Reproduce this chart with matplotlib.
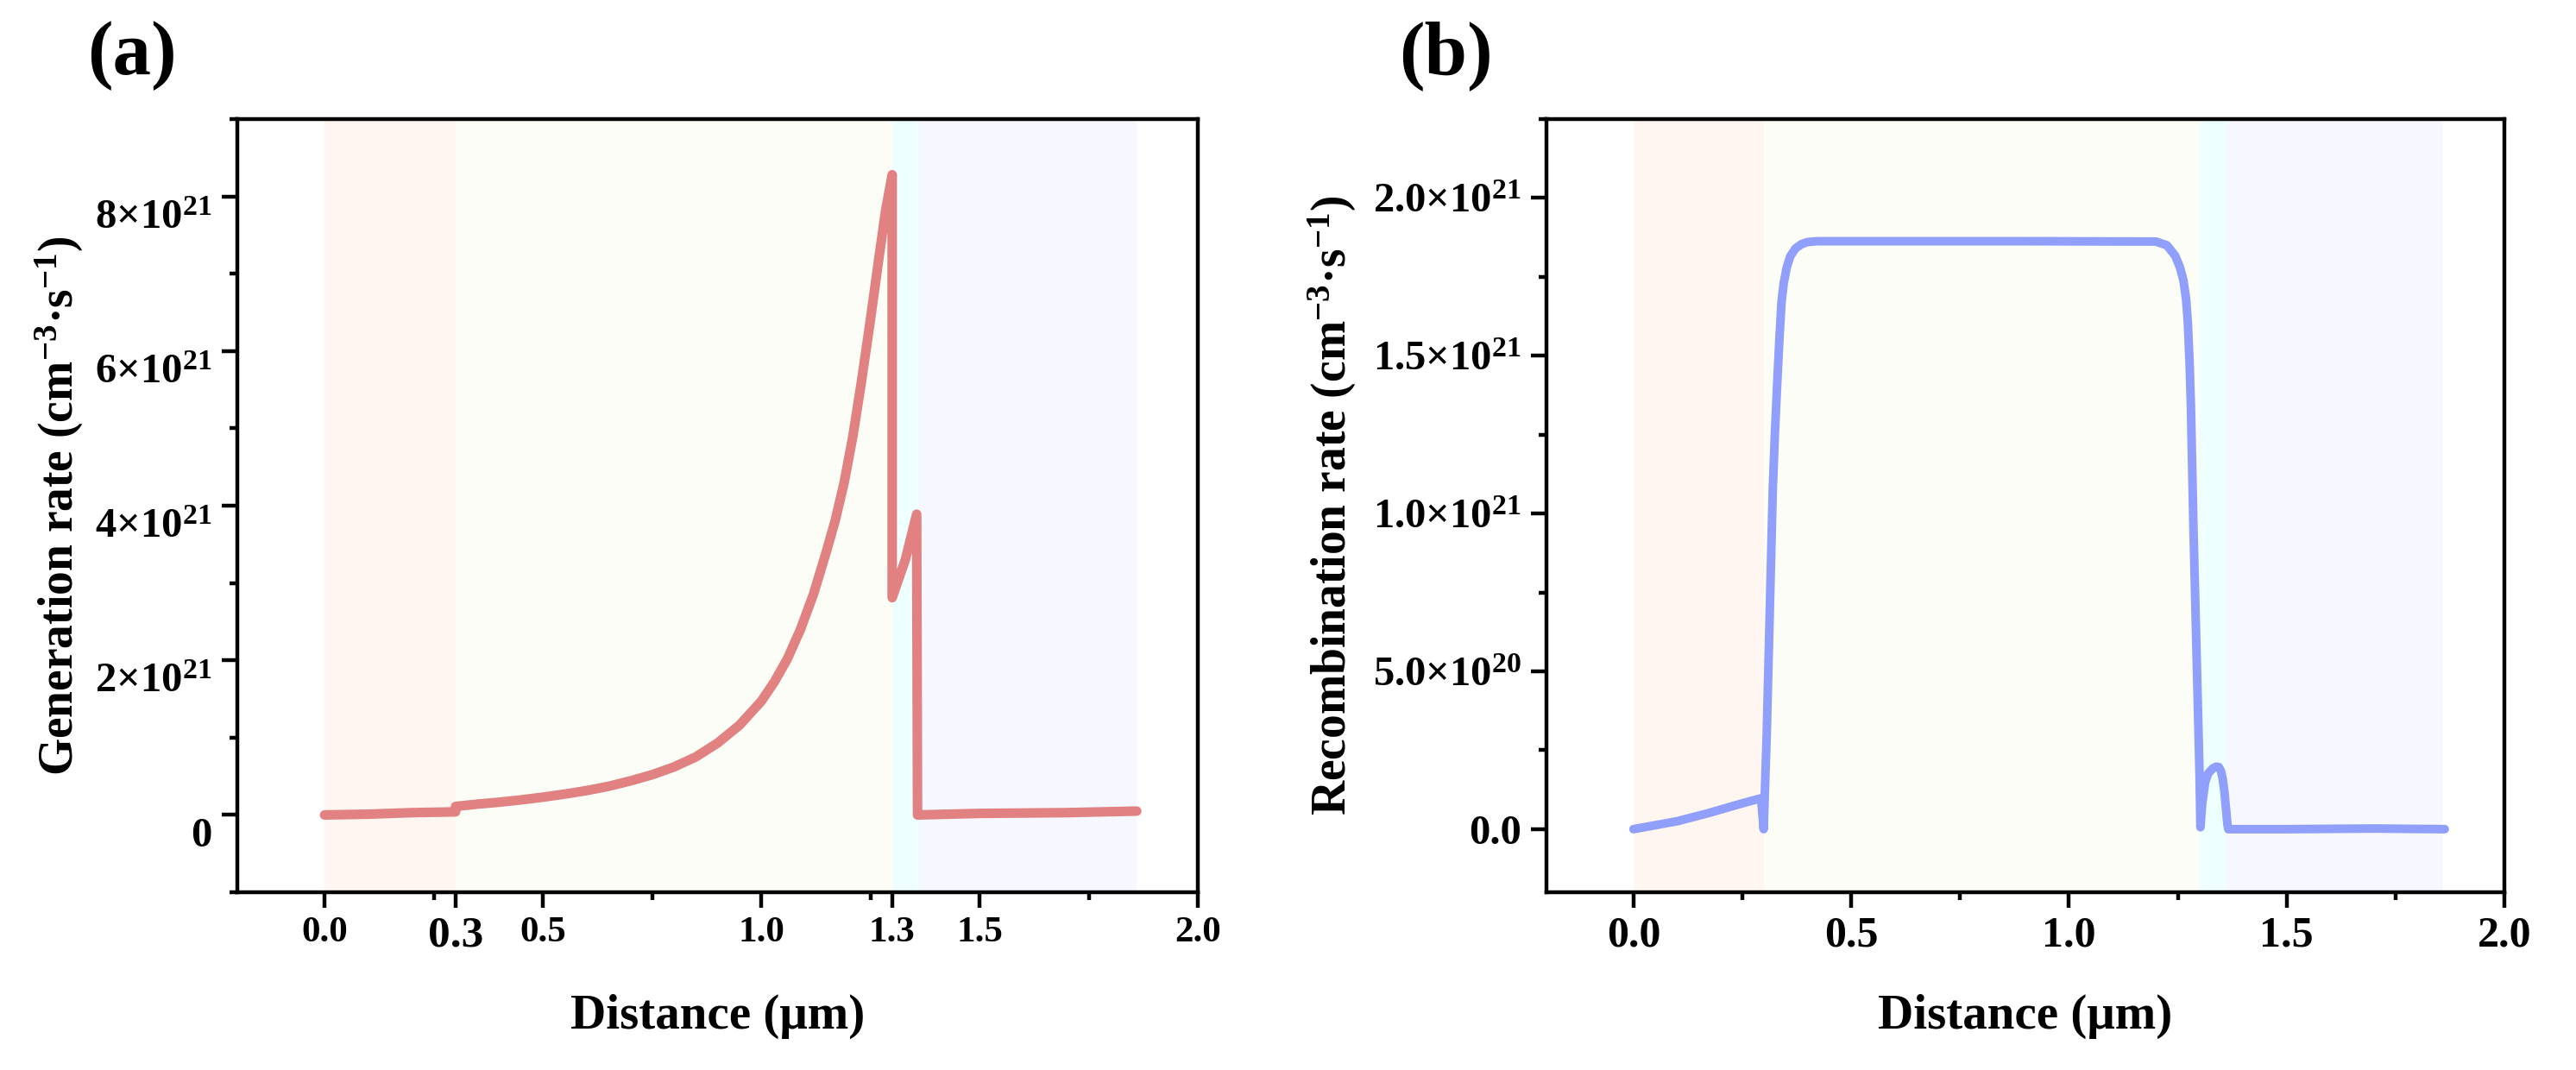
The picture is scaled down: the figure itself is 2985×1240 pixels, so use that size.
import numpy as np
import matplotlib
matplotlib.use("Agg")
import matplotlib.pyplot as plt
from matplotlib.ticker import FixedLocator, MultipleLocator, FixedFormatter
from matplotlib.transforms import ScaledTranslation

plt.rcParams["font.family"] = ["Liberation Serif", "DejaVu Serif"]
plt.rcParams["font.weight"] = "bold"
plt.rcParams["mathtext.fontset"] = "custom"
plt.rcParams["mathtext.rm"] = "Liberation Serif:bold"
plt.rcParams["mathtext.it"] = "Liberation Serif:bold:italic"
plt.rcParams["mathtext.bf"] = "Liberation Serif:bold"
plt.rcParams["mathtext.default"] = "rm"

# values in units of 1e21 cm^-3 s^-1, distance in um
SCALE = 1e21

gen_x = [0.00, 0.10, 0.20, 0.30, 0.30, 0.35, 0.40, 0.45, 0.50, 0.55, 0.60,
         0.65, 0.70, 0.75, 0.80, 0.85, 0.90, 0.95, 1.00, 1.03, 1.06, 1.09,
         1.12, 1.15, 1.17, 1.19, 1.21, 1.23, 1.25, 1.27, 1.285, 1.30, 1.30,
         1.33, 1.356, 1.358, 1.50, 1.70, 1.86]
gen_y = [0.00, 0.01, 0.03, 0.04, 0.11, 0.14, 0.165, 0.195, 0.23, 0.27, 0.315,
         0.37, 0.44, 0.52, 0.62, 0.75, 0.93, 1.16, 1.47, 1.72, 2.02, 2.40,
         2.86, 3.42, 3.82, 4.30, 4.90, 5.62, 6.40, 7.22, 7.82, 8.28, 2.81,
         3.30, 3.89, 0.00, 0.02, 0.03, 0.05]

rec_x = [0.00, 0.10, 0.17, 0.24, 0.293, 0.299, 0.306, 0.313, 0.320, 0.325,
         0.330, 0.335, 0.340, 0.345, 0.352, 0.360, 0.372, 0.385, 0.398, 0.42,
         0.60, 0.90, 1.20, 1.225, 1.244, 1.255, 1.263, 1.269, 1.273, 1.277,
         1.280, 1.286, 1.293, 1.300, 1.302, 1.306, 1.313, 1.320, 1.330,
         1.338, 1.344, 1.349, 1.353, 1.357, 1.361, 1.364, 1.366, 1.50, 1.70,
         1.863]
rec_y = [0.000, 0.025, 0.050, 0.078, 0.098, 0.000, 0.30, 0.69, 1.08, 1.26,
         1.41, 1.55, 1.67, 1.73, 1.78, 1.815, 1.84, 1.853, 1.860, 1.863,
         1.863, 1.863, 1.862, 1.850, 1.817, 1.780, 1.739, 1.680, 1.608, 1.480,
         1.347, 0.954, 0.562, 0.170, 0.006, 0.080, 0.150, 0.177, 0.192,
         0.198, 0.197, 0.185, 0.160, 0.120, 0.060, 0.015, 0.000, 0.000, 0.002,
         0.000]

# layer boundaries (um) and their shading
layer_edges = [0.0, 0.30, 1.30, 1.36, 1.86]
layer_colors = ["#FFF6F1", "#FBFDF6", "#EEFFFF", "#F7F8FF"]

gen_yticks = [0, 2, 4, 6, 8]
gen_yticklabels = ["0"] + [f"{v}×10$^{{21}}$" for v in gen_yticks[1:]]
gen_xticks = [0.0, 0.3, 0.5, 1.0, 1.3, 1.5, 2.0]
gen_xticklabels = ["0.0", "0.3", "0.5", "1.0", "1.3", "1.5", "2.0"]

rec_yticks = [0.0, 0.5, 1.0, 1.5, 2.0]
rec_yticklabels = ["0.0", "5.0×10$^{20}$", "1.0×10$^{21}$",
                   "1.5×10$^{21}$", "2.0×10$^{21}$"]
rec_xticks = [0.0, 0.5, 1.0, 1.5, 2.0]
rec_xticklabels = ["0.0", "0.5", "1.0", "1.5", "2.0"]

gen_color = "#E18181"
rec_color = "#909FFB"

DPI = 200
fig = plt.figure(figsize=(2985 / DPI, 1240 / DPI), dpi=DPI)
ax_a = fig.add_axes([0.0921, 0.1661, 0.3729, 0.7226])
ax_b = fig.add_axes([0.6003, 0.1661, 0.3719, 0.7226])


def style_axes(ax):
    for sp in ax.spines.values():
        sp.set_linewidth(1.6)
    ax.tick_params(which="major", length=6.5, width=1.6, direction="out")
    ax.tick_params(which="minor", length=3.2, width=1.6, direction="out")
    ax.tick_params(axis="x", which="major", pad=3.5)
    ax.tick_params(axis="y", which="major", pad=4)
    for i in range(len(layer_edges) - 1):
        ax.axvspan(layer_edges[i], layer_edges[i + 1],
                   color=layer_colors[i], lw=0, zorder=0)
    ax.set_xlim(-0.2, 2.0)
    ax.xaxis.set_minor_locator(MultipleLocator(0.25))
    ax.set_xlabel("Distance (μm)", fontsize=20.5, fontweight="bold",
                  labelpad=16)


# (a) generation rate
style_axes(ax_a)
ax_a.plot(gen_x, np.array(gen_y) * SCALE, color=gen_color, lw=4.0,
          solid_joinstyle="round", solid_capstyle="round", zorder=3)
ax_a.set_ylim(-1e21, 9e21)
ax_a.yaxis.set_major_locator(FixedLocator(np.array(gen_yticks) * SCALE))
ax_a.yaxis.set_major_formatter(FixedFormatter(gen_yticklabels))
ax_a.yaxis.set_minor_locator(MultipleLocator(1e21))
ax_a.xaxis.set_major_locator(FixedLocator(gen_xticks))
ax_a.xaxis.set_major_formatter(FixedFormatter(gen_xticklabels))
ax_a.tick_params(axis="x", labelsize=15.5)
ax_a.tick_params(axis="y", labelsize=17.5)
ax_a.set_ylabel("Generation rate (cm$^{-3}$·s$^{-1}$)", fontsize=20,
                fontweight="bold", labelpad=4)
for lab in ax_a.get_xticklabels():
    if lab.get_text() == "0.3":
        lab.set_fontsize(18.5)
shift = ScaledTranslation(0, -20 / DPI, fig.dpi_scale_trans)
for tick in ax_a.yaxis.get_major_ticks():
    tick.label1.set_transform(tick.label1.get_transform() + shift)

# (b) recombination rate
style_axes(ax_b)
ax_b.plot(rec_x, np.array(rec_y) * SCALE, color=rec_color, lw=3.6,
          solid_joinstyle="round", solid_capstyle="round", zorder=3)
ax_b.set_ylim(-0.2e21, 2.25e21)
ax_b.yaxis.set_major_locator(FixedLocator(np.array(rec_yticks) * SCALE))
ax_b.yaxis.set_major_formatter(FixedFormatter(rec_yticklabels))
ax_b.yaxis.set_minor_locator(MultipleLocator(0.25e21))
ax_b.xaxis.set_major_locator(FixedLocator(rec_xticks))
ax_b.xaxis.set_major_formatter(FixedFormatter(rec_xticklabels))
ax_b.tick_params(axis="x", labelsize=18)
ax_b.tick_params(axis="y", labelsize=17.5)
ax_b.set_ylabel("Recombination rate (cm$^{-3}$·s$^{-1}$)", fontsize=20,
                fontweight="bold", labelpad=6)

fig.text(153 / 2985, 1 - 65 / 1240, "(a)", fontsize=32, fontweight="bold",
         ha="center", va="center")
fig.text(1675 / 2985, 1 - 65 / 1240, "(b)", fontsize=32, fontweight="bold",
         ha="center", va="center")

fig.savefig("out.png", dpi=DPI)
